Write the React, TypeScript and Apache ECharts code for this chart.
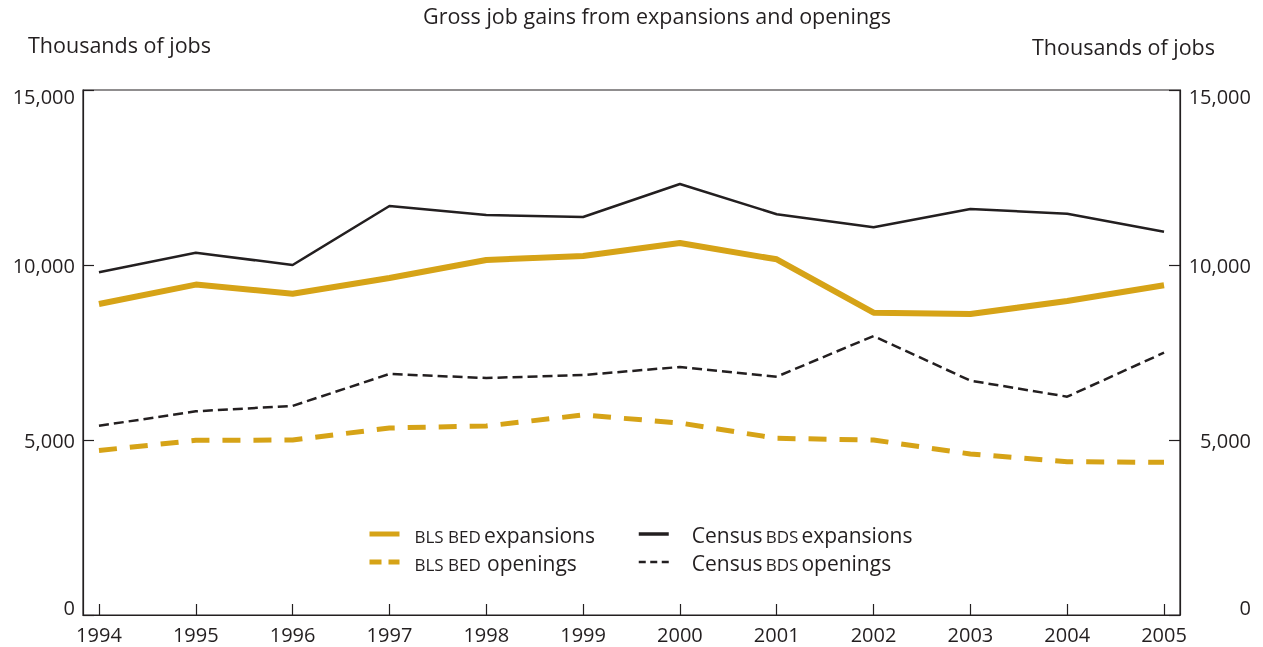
import React, { useEffect, useRef } from "react";
import * as echarts from "echarts";

const years = [1994, 1995, 1996, 1997, 1998, 1999, 2000, 2001, 2002, 2003, 2004, 2005];
const blsExpansions = [8886, 9440, 9180, 9629, 10143, 10257, 10629, 10162, 8638, 8600, 8971, 9419];
const blsOpenings = [4700, 4990, 5000, 5343, 5400, 5714, 5486, 5048, 5000, 4600, 4381, 4362];
const bdsExpansions = [9795, 10350, 10000, 11686, 11429, 11371, 12314, 11450, 11080, 11600, 11466, 10951];
const bdsOpenings = [5405, 5820, 5975, 6886, 6771, 6857, 7086, 6810, 7971, 6695, 6238, 7495];
const yTicks = [0, 5000, 10000, 15000];

const GOLD = "#D6A317";
const INK = "#231F20";
const FONT = "'Open Sans', sans-serif";

const pair = (vals: number[]) => years.map((y, i) => [y, vals[i]]);

export default function App() {
  const ref = useRef<HTMLDivElement>(null);
  useEffect(() => {
    if (!ref.current) return;
    const chart = echarts.init(ref.current, null, { renderer: "svg" });
    const rich = {
      g: { width: 10 },
      h: { width: 18 },
      s: { fontSize: 17, fontFamily: FONT, color: INK, lineHeight: 17, verticalAlign: "bottom" },
      n: { fontSize: 21, fontFamily: FONT, color: INK, lineHeight: 22, verticalAlign: "bottom" },
    };
    const legendFmt = (name: string) => {
      if (name === "BLS BED expansions") return "{g|}{s|BLS BED} {n|expansions}";
      if (name === "BLS BED openings") return "{g|}{s|BLS BED}  {n|openings}";
      if (name === "Census BDS expansions") return "{h|}{n|Census} {s|BDS} {n|expansions}";
      return "{h|}{n|Census} {s|BDS} {n|openings}";
    };
    const yRich = {
      t: { padding: [12, 0, 0, 0], fontSize: 20, fontFamily: FONT, color: INK },
      b: { padding: [0, 0, 16, 0], fontSize: 20, fontFamily: FONT, color: INK },
      m: { fontSize: 20, fontFamily: FONT, color: INK },
    };
    const yFmt = (v: number) => {
      const s = v.toLocaleString("en-US");
      if (v === 15000) return `{t|${s}}`;
      if (v === 0) return `{b|${s}}`;
      return `{m|${s}}`;
    };
    const yAxisBase = {
      type: "value",
      min: 0,
      max: 15000,
      interval: 5000,
      splitLine: { show: false },
      axisLine: { show: true, lineStyle: { color: INK, width: 1.2 } },
      axisTick: { show: true, inside: true, length: 11, lineStyle: { color: INK, width: 1.2 } },
    };
    const legendBase = {
      orient: "vertical",
      itemWidth: 30,
      itemHeight: 22,
      itemGap: 7,
      padding: 0,
      itemStyle: { opacity: 0 },
      formatter: legendFmt,
      textStyle: { rich },
    };
    chart.setOption({
      animation: false,
      textStyle: { fontFamily: FONT },
      title: [
        { text: "Gross job gains from expansions and openings", left: 423, top: 4, padding: 0, textStyle: { fontFamily: FONT, fontSize: 21.5, fontWeight: "normal", color: INK } },
        { text: "Thousands of jobs", left: 28, top: 33, padding: 0, textStyle: { fontFamily: FONT, fontSize: 21.5, fontWeight: "normal", color: INK } },
        { text: "Thousands of jobs", left: 1032, top: 35, padding: 0, textStyle: { fontFamily: FONT, fontSize: 21.5, fontWeight: "normal", color: INK } },
      ],
      grid: { left: 83, right: 83, top: 90, bottom: 32, show: true, borderColor: INK, borderWidth: 1.2, containLabel: false },
      legend: [
        {
          ...legendBase, left: 367, top: 524,
          data: [
            { name: "BLS BED expansions", lineStyle: { color: GOLD, width: 5, type: "solid" } },
            { name: "BLS BED openings", lineStyle: { color: GOLD, width: 5, type: [12, 7] } },
          ],
        },
        {
          ...legendBase, left: 637, top: 524,
          data: [
            { name: "Census BDS expansions", lineStyle: { color: INK, width: 3.5, type: "solid" } },
            { name: "Census BDS openings", lineStyle: { color: INK, width: 2.5, type: [7, 4.5] } },
          ],
        },
      ],
      xAxis: {
        type: "value",
        min: 1993.835,
        max: 2005.165,
        splitLine: { show: false },
        axisLine: { show: true, lineStyle: { color: INK, width: 1.2 } },
        axisTick: { show: true, inside: true, length: 11, customValues: years, lineStyle: { color: INK, width: 1.2 } },
        axisLabel: { customValues: years, formatter: (v: number) => String(v), fontSize: 20, color: INK, fontFamily: FONT, margin: 9 },
      },
      yAxis: [
        { ...yAxisBase, position: "left", axisLabel: { formatter: yFmt, rich: yRich, margin: 8, customValues: yTicks } },
        { ...yAxisBase, position: "right", axisLabel: { formatter: yFmt, rich: yRich, margin: 71, align: "right", customValues: yTicks } },
      ],
      series: [
        { name: "BLS BED expansions", type: "line", data: pair(blsExpansions), symbol: "none", lineStyle: { color: GOLD, width: 6 }, itemStyle: { color: GOLD } },
        { name: "BLS BED openings", type: "line", data: pair(blsOpenings), symbol: "none", lineStyle: { color: GOLD, width: 5, type: [18, 13] }, itemStyle: { color: GOLD } },
        { name: "Census BDS expansions", type: "line", data: pair(bdsExpansions), symbol: "none", lineStyle: { color: INK, width: 2.5 }, itemStyle: { color: INK } },
        { name: "Census BDS openings", type: "line", data: pair(bdsOpenings), symbol: "none", lineStyle: { color: INK, width: 2.5, type: [10, 5] }, itemStyle: { color: INK } },
      ],
    });
    return () => chart.dispose();
  }, []);
  return <div ref={ref} style={{ position: "fixed", left: 0, top: 0, width: 1263, height: 647 }} />;
}
